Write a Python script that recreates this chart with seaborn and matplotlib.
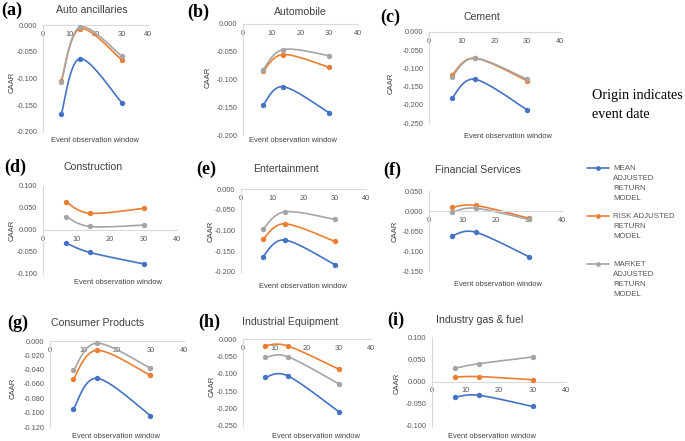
import numpy as np
import pandas as pd
import matplotlib
matplotlib.use("Agg")
import matplotlib.pyplot as plt
from matplotlib.lines import Line2D
import seaborn as sns

# ---------------- data ----------------
windows = [7, 14, 30]
series_names = ["MEAN\nADJUSTED\nRETURN\nMODEL", "RISK ADJUSTED\nRETURN\nMODEL", "MARKET\nADJUSTED\nRETURN\nMODEL"]
colors = ["#4472C4", "#ED7D31", "#A5A5A5"]

titles = ["Auto ancillaries", "Automobile", "Cement", "Construction", "Entertainment",
          "Financial Services", "Consumer Products", "Industrial Equipment", "Industry gas & fuel"]
panel_tags = ["(a)", "(b)", "(c)", "(d)", "(e)", "(f)", "(g)", "(h)", "(i)"]

mean_adj = [[-0.166, -0.063, -0.145], [-0.146, -0.113, -0.160], [-0.182, -0.130, -0.214],
            [-0.030, -0.051, -0.077], [-0.163, -0.123, -0.182], [-0.062, -0.053, -0.114],
            [-0.095, -0.052, -0.104], [-0.110, -0.106, -0.209], [-0.035, -0.031, -0.056]]
risk_adj = [[-0.104, -0.007, -0.065], [-0.085, -0.055, -0.078], [-0.118, -0.072, -0.134],
            [0.063, 0.038, 0.049], [-0.121, -0.084, -0.126], [0.009, 0.014, -0.018],
            [-0.053, -0.013, -0.048], [-0.019, -0.020, -0.087], [0.010, 0.011, 0.004]]
market_adj = [[-0.106, -0.004, -0.058], [-0.082, -0.046, -0.057], [-0.123, -0.072, -0.130],
              [0.030, 0.008, 0.011], [-0.097, -0.055, -0.073], [-0.003, 0.007, -0.021],
              [-0.041, -0.003, -0.038], [-0.053, -0.051, -0.129], [0.030, 0.040, 0.055]]

y_limits = [(-0.20, 0.0), (-0.20, 0.0), (-0.25, 0.0), (-0.10, 0.10), (-0.20, 0.0),
            (-0.15, 0.05), (-0.12, 0.0), (-0.25, 0.0), (-0.10, 0.10)]
y_steps = [0.05, 0.05, 0.05, 0.05, 0.05, 0.05, 0.02, 0.05, 0.05]
x_ticks = [0, 10, 20, 30, 40]

# ---------------- layout (pixels) ----------------
W, H = 685, 441
# left, right(x=40), top(ymax), bottom(ymin)
boxes = [(43, 148, 25, 132), (243, 358, 24, 135), (429, 560, 32, 123),
         (43, 177, 186, 274), (241, 366, 189, 272), (429, 562, 191, 271),
         (50, 184, 341, 427), (243, 371, 339, 426), (432, 566, 337, 426)]
title_pos = [(92, 10), (300, 12), (482, 17), (93, 167), (286, 169), (478, 170),
             (98, 323), (290, 322), (480, 320)]
tag_pos = [(1, 10), (187, 12), (380, 17), (4, 167), (196, 169), (383, 170),
           (7, 323), (198, 322), (387, 320)]
caar_pos = [(12, 82), (208, 77), (391, 83), (12, 230), (211, 231), (395, 231),
            (13, 388), (212, 386), (397, 383)]
xlab_pos = [(95, 140), (293, 140), (508, 137), (118, 282), (303, 286), (498, 284),
            (116, 437), (316, 436), (492, 437)]

sns.set_theme(style="white")
plt.rcParams["font.family"] = ["Liberation Sans", "DejaVu Sans"]

fig = plt.figure(figsize=(W / 100, H / 100), dpi=100)
fig.patch.set_facecolor("white")


def fx(x):
    return x / W


def fy(y):
    return 1 - y / H


def smooth(xs, ys, sx, sy, n=40):
    # Excel-like smoothed line (Catmull-Rom Bezier) computed in pixel space
    P = np.column_stack([np.asarray(xs, float) * sx, np.asarray(ys, float) * sy])
    out = []
    for i in range(len(P) - 1):
        p0 = P[i - 1] if i > 0 else P[i]
        p1, p2 = P[i], P[i + 1]
        p3 = P[i + 2] if i + 2 < len(P) else P[i + 1]
        c1 = p1 + (p2 - p0) / 6
        c2 = p2 - (p3 - p1) / 6
        t = np.linspace(0, 1, n)[:, None]
        seg = ((1 - t) ** 3) * p1 + 3 * ((1 - t) ** 2) * t * c1 + 3 * (1 - t) * t ** 2 * c2 + t ** 3 * p2
        out.append(seg if i == 0 else seg[1:])
    out = np.vstack(out)
    return out[:, 0] / sx, out[:, 1] / sy


grid_c = "#D9D9D9"
tick_c = "#595959"

for k in range(9):
    l, r, t, b = boxes[k]
    ax = fig.add_axes([fx(l), fy(b), (r - l) / W, (b - t) / H])
    ax.set_facecolor("none")
    ymin, ymax = y_limits[k]
    ax.set_xlim(0, 40)
    ax.set_ylim(ymin, ymax)
    sx = (r - l) / 40
    sy = (b - t) / (ymax - ymin)
    for vals, c in zip([mean_adj[k], risk_adj[k], market_adj[k]], colors):
        xs, ys = smooth(windows, vals, sx, sy)
        sns.lineplot(x=xs, y=ys, sort=False, estimator=None, color=c, lw=1.2, ax=ax)
        sns.scatterplot(x=windows, y=vals, color=c, s=15, linewidth=0, ax=ax, zorder=5)
    yt = np.round(np.arange(ymin, ymax + y_steps[k] / 2, y_steps[k]), 3)
    ax.set_yticks(yt)
    ax.set_yticklabels([f"{v + 0.0:.3f}".replace("-0.000", "0.000") for v in yt])
    ax.set_xticks(x_ticks)
    ax.set_xticklabels([str(v) for v in x_ticks])
    ax.tick_params(axis="both", length=0, labelsize=5.3, labelcolor=tick_c)
    ax.tick_params(axis="y", pad=4)
    ax.tick_params(axis="x", pad=4.3)
    for s in ["top", "right"]:
        ax.spines[s].set_visible(False)
    ax.spines["left"].set_color(grid_c)
    ax.spines["left"].set_linewidth(0.8)
    ax.spines["bottom"].set_position(("data", 0))
    ax.spines["bottom"].set_color(grid_c)
    ax.spines["bottom"].set_linewidth(0.8)
    ax.set_xlabel("")
    ax.set_ylabel("")

    fig.text(fx(title_pos[k][0]), fy(title_pos[k][1]), titles[k], ha="center", va="center",
             fontsize=7.6, color="#404040")
    fig.text(fx(tag_pos[k][0]), fy(tag_pos[k][1]), panel_tags[k], ha="left", va="center",
             fontsize=13, fontweight="bold", family=["Liberation Serif", "DejaVu Serif"], color="black")
    fig.text(fx(caar_pos[k][0]), fy(caar_pos[k][1]), "CAAR", ha="center", va="center",
             rotation=90, fontsize=5.6, color="#404040")
    fig.text(fx(xlab_pos[k][0]), fy(xlab_pos[k][1]), "Event observation window", ha="center",
             va="center", fontsize=5.4, color="#404040")

# side note
fig.text(fx(592), fy(95), "Origin indicates", ha="left", va="center", fontsize=10.2,
         family=["Liberation Serif", "DejaVu Serif"], color="black")
fig.text(fx(592), fy(114), "event date", ha="left", va="center", fontsize=10.2,
         family=["Liberation Serif", "DejaVu Serif"], color="black")

# legend
leg_y = [168, 216, 264]
for name, c, y0 in zip(series_names, colors, leg_y):
    fig.add_artist(Line2D([fx(587), fx(609)], [fy(y0), fy(y0)], transform=fig.transFigure,
                          color=c, lw=1.2))
    fig.add_artist(Line2D([fx(598)], [fy(y0)], transform=fig.transFigure, color=c,
                          marker="o", markersize=3.4, markeredgewidth=0))
    for j, line in enumerate(name.split("\n")):
        fig.text(fx(613), fy(y0 + j * 10.3), line, ha="left", va="center", fontsize=5.7,
                 color=tick_c)

fig.savefig("out.png", dpi=100, facecolor="white")
